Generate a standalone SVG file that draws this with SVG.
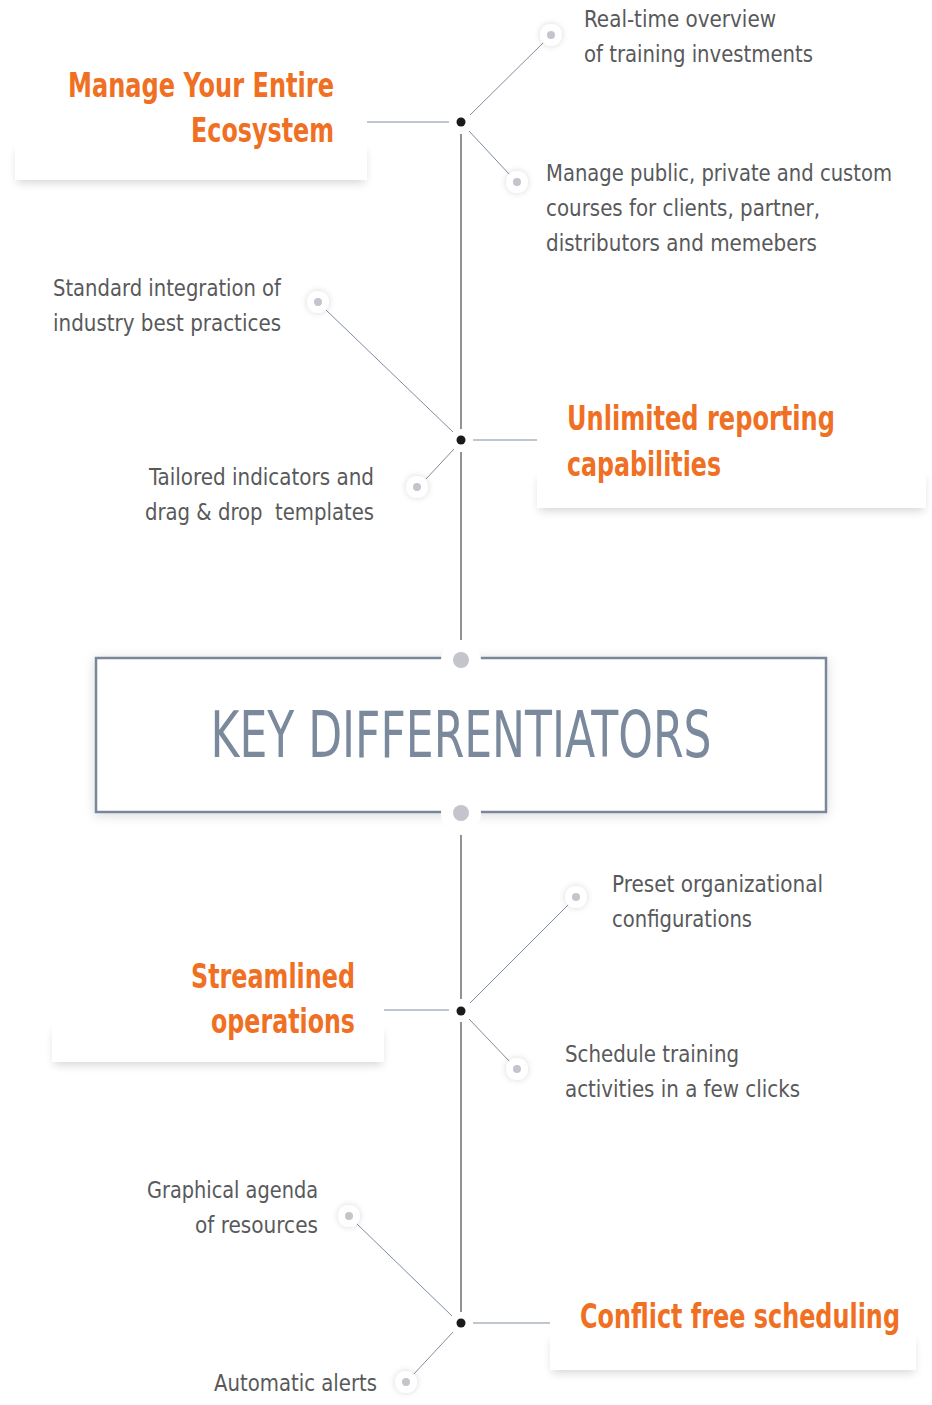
<svg xmlns="http://www.w3.org/2000/svg" width="932" height="1405" viewBox="0 0 932 1405">
<style>
.h{font-family:"Liberation Sans Narrow","DejaVu Sans Condensed","Liberation Sans",sans-serif;font-weight:bold;font-size:34px;fill:#f07023}
.t{font-family:"Liberation Sans Narrow","DejaVu Sans Condensed","Liberation Sans",sans-serif;font-size:23px;fill:#58595b}
.k{font-family:"Liberation Sans Narrow","DejaVu Sans Condensed","Liberation Sans",sans-serif;font-size:64px;fill:#7b899d}
.card{fill:#fff}
.csh{fill:#000;opacity:0.16;filter:url(#blur)}
.v{stroke:#6d6e71;stroke-width:1.5;fill:none}
.hz{stroke:#a9b3c1;stroke-width:1.5;fill:none}
.dg{stroke:#7f8ba0;stroke-width:1;fill:none}
.hub{fill:#1a1a1a}
.po{fill:#fff;filter:url(#gl)}
.pi{fill:#c4c5cc}
</style>
<defs>
<filter id="blur" x="-20%" y="-100%" width="140%" height="300%">
<feGaussianBlur stdDeviation="5"/>
</filter>
<filter id="gl" x="-80%" y="-80%" width="260%" height="260%">
<feDropShadow dx="0" dy="0" stdDeviation="3" flood-color="#000" flood-opacity="0.16"/>
</filter>
<filter id="bs" x="-10%" y="-30%" width="120%" height="160%">
<feDropShadow dx="0" dy="2" stdDeviation="6" flood-color="#000" flood-opacity="0.15"/>
</filter>
</defs>

<g id="connectors">
<line class="v" x1="461" y1="134" x2="461" y2="429"/>
<line class="v" x1="461" y1="452" x2="461" y2="640"/>
<line class="v" x1="461" y1="835" x2="461" y2="999"/>
<line class="v" x1="461" y1="1022" x2="461" y2="1312"/>
<line class="hz" x1="367" y1="122" x2="449" y2="122"/>
<line class="hz" x1="473" y1="440" x2="537" y2="440"/>
<line class="hz" x1="384" y1="1010" x2="449" y2="1010"/>
<line class="hz" x1="473" y1="1323" x2="550" y2="1323"/>
<line class="dg" x1="470" y1="115" x2="544" y2="42"/>
<line class="dg" x1="469" y1="131" x2="510" y2="175"/>
<line class="dg" x1="453" y1="432" x2="326" y2="310"/>
<line class="dg" x1="454" y1="449" x2="426" y2="479"/>
<line class="dg" x1="470" y1="1003" x2="569" y2="904"/>
<line class="dg" x1="469" y1="1019" x2="510" y2="1062"/>
<line class="dg" x1="452" y1="1316" x2="356" y2="1223"/>
<line class="dg" x1="453" y1="1332" x2="413" y2="1375"/>
</g>

<g id="card-ecosystem">
<rect class="csh" x="17" y="150" width="348" height="33"/>
<rect class="card" x="15" y="50" width="352" height="130"/>
<text class="h" x="334" y="97" text-anchor="end" textLength="266" lengthAdjust="spacingAndGlyphs">Manage Your Entire</text>
<text class="h" x="334" y="142" text-anchor="end" textLength="143" lengthAdjust="spacingAndGlyphs">Ecosystem</text>
</g>
<g id="card-reporting">
<rect class="csh" x="539" y="478" width="385" height="33"/>
<rect class="card" x="537" y="380" width="389" height="128"/>
<text class="h" x="567" y="430" textLength="268" lengthAdjust="spacingAndGlyphs">Unlimited reporting</text>
<text class="h" x="567" y="476" textLength="154" lengthAdjust="spacingAndGlyphs">capabilities</text>
</g>
<g id="card-operations">
<rect class="csh" x="54" y="1032" width="328" height="33"/>
<rect class="card" x="52" y="935" width="332" height="127"/>
<text class="h" x="355" y="988" text-anchor="end" textLength="164" lengthAdjust="spacingAndGlyphs">Streamlined</text>
<text class="h" x="355" y="1033" text-anchor="end" textLength="144" lengthAdjust="spacingAndGlyphs">operations</text>
</g>
<g id="card-scheduling">
<rect class="csh" x="552" y="1340" width="362" height="33"/>
<rect class="card" x="550" y="1280" width="366" height="90"/>
<text class="h" x="580" y="1328" textLength="320" lengthAdjust="spacingAndGlyphs">Conflict free scheduling</text>
</g>

<g id="key-differentiators">
<rect x="96" y="658" width="730" height="154" fill="#fff" stroke="#7a879b" stroke-width="2.5" filter="url(#bs)"/>
<text class="k" x="461" y="757" text-anchor="middle" textLength="501" lengthAdjust="spacingAndGlyphs">KEY DIFFERENTIATORS</text>
<circle cx="461" cy="660" r="20" fill="#fff"/>
<circle cx="461" cy="660" r="8" class="pi"/>
<circle cx="461" cy="813" r="20" fill="#fff"/>
<circle cx="461" cy="813" r="8" class="pi"/>
</g>

<g id="hubs">
<circle class="hub" cx="461" cy="122" r="4.5"/>
<circle class="hub" cx="461" cy="440" r="4.5"/>
<circle class="hub" cx="461" cy="1011" r="4.5"/>
<circle class="hub" cx="461" cy="1323" r="4.5"/>
</g>

<g id="item-realtime">
<circle class="po" cx="551" cy="35" r="11"/><circle class="pi" cx="551" cy="35" r="4"/>
<text class="t" x="584" y="27" textLength="192" lengthAdjust="spacingAndGlyphs">Real-time overview</text>
<text class="t" x="584" y="62" textLength="229" lengthAdjust="spacingAndGlyphs">of training investments</text>
</g>
<g id="item-courses">
<circle class="po" cx="517" cy="182" r="11"/><circle class="pi" cx="517" cy="182" r="4"/>
<text class="t" x="546" y="181" textLength="346" lengthAdjust="spacingAndGlyphs">Manage public, private and custom</text>
<text class="t" x="546" y="216" textLength="274" lengthAdjust="spacingAndGlyphs">courses for clients, partner,</text>
<text class="t" x="546" y="251" textLength="271" lengthAdjust="spacingAndGlyphs">distributors and memebers</text>
</g>
<g id="item-standard">
<circle class="po" cx="318" cy="302" r="11"/><circle class="pi" cx="318" cy="302" r="4"/>
<text class="t" x="281" y="296" text-anchor="end" textLength="228" lengthAdjust="spacingAndGlyphs">Standard integration of</text>
<text class="t" x="281" y="331" text-anchor="end" textLength="228" lengthAdjust="spacingAndGlyphs">industry best practices</text>
</g>
<g id="item-tailored">
<circle class="po" cx="417" cy="487" r="11"/><circle class="pi" cx="417" cy="487" r="4"/>
<text class="t" x="374" y="485" text-anchor="end" textLength="225" lengthAdjust="spacingAndGlyphs">Tailored indicators and</text>
<text class="t" x="374" y="520" text-anchor="end" textLength="229" lengthAdjust="spacingAndGlyphs" xml:space="preserve">drag &amp; drop  templates</text>
</g>
<g id="item-preset">
<circle class="po" cx="576" cy="897" r="11"/><circle class="pi" cx="576" cy="897" r="4"/>
<text class="t" x="612" y="892" textLength="211" lengthAdjust="spacingAndGlyphs">Preset organizational</text>
<text class="t" x="612" y="927" textLength="140" lengthAdjust="spacingAndGlyphs">configurations</text>
</g>
<g id="item-schedule">
<circle class="po" cx="517" cy="1069" r="11"/><circle class="pi" cx="517" cy="1069" r="4"/>
<text class="t" x="565" y="1062" textLength="174" lengthAdjust="spacingAndGlyphs">Schedule training</text>
<text class="t" x="565" y="1097" textLength="235" lengthAdjust="spacingAndGlyphs">activities in a few clicks</text>
</g>
<g id="item-agenda">
<circle class="po" cx="349" cy="1216" r="11"/><circle class="pi" cx="349" cy="1216" r="4"/>
<text class="t" x="318" y="1198" text-anchor="end" textLength="171" lengthAdjust="spacingAndGlyphs">Graphical agenda</text>
<text class="t" x="318" y="1233" text-anchor="end" textLength="123" lengthAdjust="spacingAndGlyphs">of resources</text>
</g>
<g id="item-alerts">
<circle class="po" cx="406" cy="1382" r="11"/><circle class="pi" cx="406" cy="1382" r="4"/>
<text class="t" x="377" y="1391" text-anchor="end" textLength="163" lengthAdjust="spacingAndGlyphs">Automatic alerts</text>
</g>
</svg>
